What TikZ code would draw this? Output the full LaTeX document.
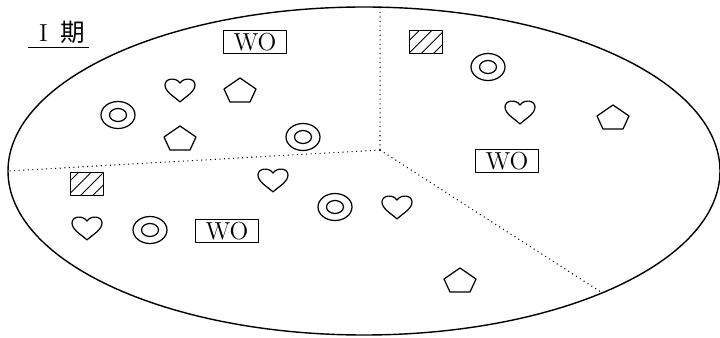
\documentclass[tikz,border=0pt]{standalone}
\usepackage{fontspec}
\newfontfamily\cjk{Noto Sans CJK JP}
\usetikzlibrary{calc, patterns.meta}

\tikzset{
  corazon/.pic={\draw[line width=0.7pt] (0,-12) .. controls (-5,-7) and (-15,-2) .. (-15,5) .. controls (-15,12) and (-4,13) .. (0,7) .. controls (4,13) and (15,12) .. (15,5) .. controls (15,-2) and (5,-7) .. (0,-12) -- cycle;},
  pentagono/.pic={\draw[line width=0.7pt] (0,12) -- (16,1) -- (10,-12) -- (-10,-12) -- (-16,1) -- cycle;},
  diana/.pic={\draw[line width=0.7pt] (0,0) ellipse (17 and 13.5) (0,0) ellipse (8.5 and 6.5);}
}

\begin{document}
\begin{tikzpicture}[x=0.02cm, y=0.02cm, line join=round,
    caja/.style={draw, line width=0.7pt, minimum width=1.26cm, minimum height=0.46cm, inner sep=0pt, font=\fontsize{14}{16}\selectfont},
    rayada/.style={draw, line width=0.7pt, minimum width=0.66cm, minimum height=0.46cm, inner sep=0pt, pattern={Lines[angle=45, distance=5pt, line width=0.5pt]}},
    division/.style={dotted, line width=0.6pt}]

    % Parámetros del óvalo
    \def\Rx{356}      % semieje horizontal
    \def\Ry{164}      % semieje vertical

    \useasboundingbox (0,0) rectangle (720,338);

    % --- 1. ÓVALO Y DIVISIONES ---
    \coordinate (ctr) at (364,167);
    \coordinate (hub) at (380,188);
    \draw[line width=0.8pt] (ctr) ellipse ({\Rx} and {\Ry});

    \coordinate (bordeN) at ($(ctr)+(87.4:\Rx\space and \Ry)$);
    \coordinate (bordeO) at ($(ctr)+(180:\Rx\space and \Ry)$);
    \coordinate (bordeSE) at ($(ctr)+(-48:\Rx\space and \Ry)$);
    \draw[division] (hub) -- (bordeN);
    \draw[division] (hub) -- (bordeO);
    \draw[division] (hub) -- (bordeSE);

    % --- 2. ETIQUETA DEL PERIODO ---
    \node[font=\fontsize{14}{16}\selectfont, inner sep=2pt] (periodo) at (62,306) {I\enspace{\cjk 期}};
    \draw[line width=0.6pt] ([xshift=-0.14cm]periodo.south west) -- (periodo.south east);

    % --- 3. SECTOR SUPERIOR IZQUIERDO ---
    \node[caja] (wo1) at (255,296) {WO};
    \pic (cor1) at (180,248) {corazon};
    \pic (pen1) at (240,248) {pentagono};
    \pic (dia1) at (118,223) {diana};
    \pic (pen2) at (180,200) {pentagono};
    \pic (dia2) at (303,201) {diana};

    % --- 4. SECTOR DERECHO ---
    \node[rayada] (ray1) at (426,296) {};
    \pic (dia3) at (488,271) {diana};
    \pic (cor2) at (520,226) {corazon};
    \pic (pen3) at (613,221) {pentagono};
    \node[caja] (wo2) at (507,177) {WO};

    % --- 5. SECTOR INFERIOR ---
    \node[rayada] (ray2) at (87,154) {};
    \pic (cor3) at (87,110) {corazon};
    \pic (dia4) at (150,108) {diana};
    \node[caja] (wo3) at (227,107) {WO};
    \pic (cor4) at (273,158) {corazon};
    \pic (dia5) at (335,131) {diana};
    \pic (cor5) at (397,131) {corazon};
    \pic (pen4) at (460,58) {pentagono};

\end{tikzpicture}
\end{document}
